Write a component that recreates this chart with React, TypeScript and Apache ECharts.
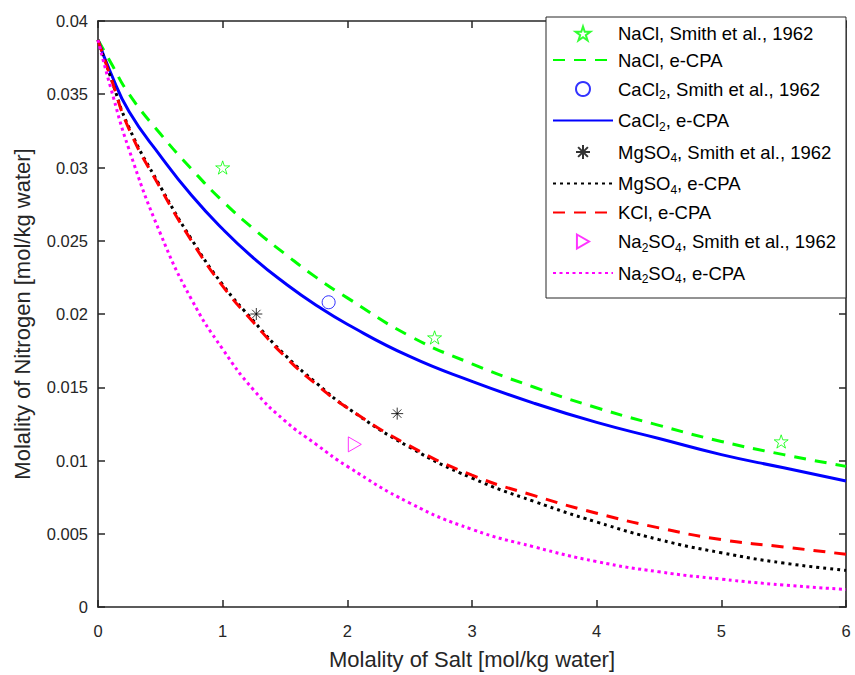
import { useEffect, useRef } from 'react';
import * as echarts from 'echarts';

// Salt molality grid used for the e-CPA model curves [mol/kg water]
const modelX = [0, 0.1, 0.25, 0.5, 0.75, 1, 1.25, 1.5, 1.75, 2, 2.5, 3, 3.5, 4, 4.5, 5, 5.5, 6];

// e-CPA nitrogen solubility [mol/kg water]
const naclModel = [0.0387, 0.0372, 0.035, 0.0323, 0.0299, 0.0277, 0.0258, 0.0241, 0.0225, 0.0211, 0.0185, 0.0166, 0.015, 0.0136, 0.0124, 0.0113, 0.0104, 0.0096];
const cacl2Model = [0.0387, 0.0365, 0.0338, 0.0308, 0.0281, 0.0258, 0.0238, 0.0221, 0.0206, 0.0193, 0.0171, 0.0154, 0.0139, 0.0126, 0.0115, 0.0104, 0.0095, 0.0086];
const mgso4Model = [0.0387, 0.0362, 0.0327, 0.0287, 0.0251, 0.022, 0.0195, 0.0172, 0.0153, 0.0136, 0.0109, 0.0088, 0.0072, 0.0058, 0.0046, 0.0037, 0.003, 0.0025];
const kclModel = [0.0387, 0.0362, 0.0326, 0.0286, 0.025, 0.0219, 0.0194, 0.0171, 0.0152, 0.0136, 0.011, 0.009, 0.0076, 0.0064, 0.0054, 0.0046, 0.0041, 0.0036];
const na2so4Model = [0.0387, 0.0355, 0.0312, 0.0255, 0.021, 0.0176, 0.0148, 0.0127, 0.0111, 0.0096, 0.0071, 0.0053, 0.0041, 0.0031, 0.0024, 0.0019, 0.0015, 0.0012];

// Smith et al., 1962 measurements
const naclExpX = [1.0, 2.7, 5.48];
const naclExpY = [0.03, 0.0184, 0.0113];
const cacl2ExpX = [1.85];
const cacl2ExpY = [0.0208];
const mgso4ExpX = [1.27, 2.4];
const mgso4ExpY = [0.02, 0.0132];
const na2so4ExpX = [2.06];
const na2so4ExpY = [0.0111];

// Axis ranges
const xRange = { min: 0, max: 6, step: 1 };
const yRange = { min: 0, max: 0.04, step: 0.005 };

const legendNames = [
  'NaCl, Smith et al., 1962',
  'NaCl, e-CPA',
  'CaCl2, Smith et al., 1962',
  'CaCl2, e-CPA',
  'MgSO4, Smith et al., 1962',
  'MgSO4, e-CPA',
  'KCl, e-CPA',
  'Na2SO4, Smith et al., 1962',
  'Na2SO4, e-CPA',
];

const STAR = 'path://M50,0L61.2,34.5L97.6,34.5L68.2,55.9L79.4,90.5L50,69.1L20.6,90.5L31.8,55.9L2.4,34.5L38.8,34.5Z';
const ASTERISK = 'path://M5,0L5,10M0,5L10,5M1.5,1.5L8.5,8.5M1.5,8.5L8.5,1.5';
const TRIANGLE_RIGHT = 'path://M0,0L13,7.5L0,15Z';

const FONT = '"Liberation Sans", Arial, Helvetica, sans-serif';
const AXIS_COLOR = '#262626';
const CLEAR = 'rgba(0,0,0,0)';

const pairs = (xs: number[], ys: number[]) => xs.map((x, i) => [x, ys[i]]);

// Chemical formula digits become subscripts in the legend
const formatLegend = (name: string) =>
  name.replace(/([A-Za-z])(\d)/g, '$1{s|$2}');

function modelLine(name: string, ys: number[], color: string, type: any, width: number) {
  return {
    name,
    type: 'line',
    data: pairs(modelX, ys),
    symbol: 'none',
    smooth: 0.5,
    lineStyle: { color, width, type, cap: 'butt' },
    // keeps the legend entry a bare line
    itemStyle: { color: CLEAR, borderColor: CLEAR, borderWidth: 0 },
    z: 2,
  };
}

function expPoints(name: string, xs: number[], ys: number[], symbol: string, size: number, color: string) {
  return {
    name,
    type: 'scatter',
    data: pairs(xs, ys),
    symbol,
    symbolSize: size,
    symbolKeepAspect: true,
    itemStyle: { color: CLEAR, borderColor: color, borderWidth: 1 },
    z: 3,
  };
}

const axisCommon = {
  axisLine: { show: true, onZero: false, lineStyle: { color: AXIS_COLOR, width: 1.6 } },
  axisTick: { show: true, inside: true, length: 7, lineStyle: { color: AXIS_COLOR, width: 1.5 } },
  splitLine: { show: false },
};

export default function App() {
  const ref = useRef<HTMLDivElement>(null);

  useEffect(() => {
    if (!ref.current) return;
    const chart = echarts.init(ref.current, undefined, { renderer: 'svg' });

    chart.setOption({
      animation: false,
      backgroundColor: '#ffffff',
      textStyle: { fontFamily: FONT },
      grid: { left: 98, right: 9, top: 21, bottom: 67, containLabel: false },
      xAxis: [
        {
          type: 'value',
          position: 'bottom',
          min: xRange.min,
          max: xRange.max,
          interval: xRange.step,
          name: 'Molality of Salt [mol/kg water]',
          nameLocation: 'middle',
          nameGap: 41,
          nameTextStyle: { fontSize: 22, color: AXIS_COLOR, fontFamily: FONT },
          axisLabel: { fontSize: 16.5, color: AXIS_COLOR, margin: 15, fontFamily: FONT },
          ...axisCommon,
        },
        {
          type: 'value',
          position: 'top',
          min: xRange.min,
          max: xRange.max,
          interval: xRange.step,
          axisLabel: { show: false },
          ...axisCommon,
        },
      ],
      yAxis: [
        {
          type: 'value',
          position: 'left',
          min: yRange.min,
          max: yRange.max,
          interval: yRange.step,
          name: 'Molality of Nitrogen [mol/kg water]',
          nameLocation: 'middle',
          nameGap: 65,
          nameTextStyle: { fontSize: 22, color: AXIS_COLOR, fontFamily: FONT },
          axisLabel: {
            fontSize: 16.5,
            color: AXIS_COLOR,
            margin: 10,
            fontFamily: FONT,
            formatter: (v: number) => String(parseFloat(v.toFixed(3))),
          },
          ...axisCommon,
        },
        {
          type: 'value',
          position: 'right',
          min: yRange.min,
          max: yRange.max,
          interval: yRange.step,
          axisLabel: { show: false },
          ...axisCommon,
        },
      ],
      legend: {
        data: legendNames,
        orient: 'vertical',
        left: 546,
        top: 17,
        padding: [7, 10, 13, 6],
        itemGap: 7.5,
        itemWidth: 60,
        itemHeight: 14,
        backgroundColor: '#ffffff',
        borderColor: AXIS_COLOR,
        borderWidth: 1,
        borderRadius: 0,
        selectedMode: false,
        formatter: formatLegend,
        textStyle: {
          fontSize: 18.5,
          color: '#000000',
          fontFamily: FONT,
          lineHeight: 18,
          rich: {
            s: { fontSize: 12, lineHeight: 12, padding: [12, 0, 0, 0], fontFamily: FONT, color: '#000000' },
          },
        },
      },
      series: [
        expPoints('NaCl, Smith et al., 1962', naclExpX, naclExpY, STAR, 14, '#00ff00'),
        modelLine('NaCl, e-CPA', naclModel, '#00ff00', [12, 9], 3),
        expPoints('CaCl2, Smith et al., 1962', cacl2ExpX, cacl2ExpY, 'circle', 13, '#0000ff'),
        modelLine('CaCl2, e-CPA', cacl2Model, '#0000ff', 'solid', 3),
        expPoints('MgSO4, Smith et al., 1962', mgso4ExpX, mgso4ExpY, ASTERISK, 12, '#000000'),
        modelLine('MgSO4, e-CPA', mgso4Model, '#000000', [3, 4], 3),
        modelLine('KCl, e-CPA', kclModel, '#ff0000', [12, 9], 3),
        expPoints('Na2SO4, Smith et al., 1962', na2so4ExpX, na2so4ExpY, TRIANGLE_RIGHT, 15, '#ff00ff'),
        modelLine('Na2SO4, e-CPA', na2so4Model, '#ff00ff', [3, 3.5], 3),
      ],
    });

    return () => chart.dispose();
  }, []);

  return (
    <div
      ref={ref}
      style={{ position: 'absolute', left: 0, top: 0, width: 855, height: 675, background: '#ffffff' }}
    />
  );
}
